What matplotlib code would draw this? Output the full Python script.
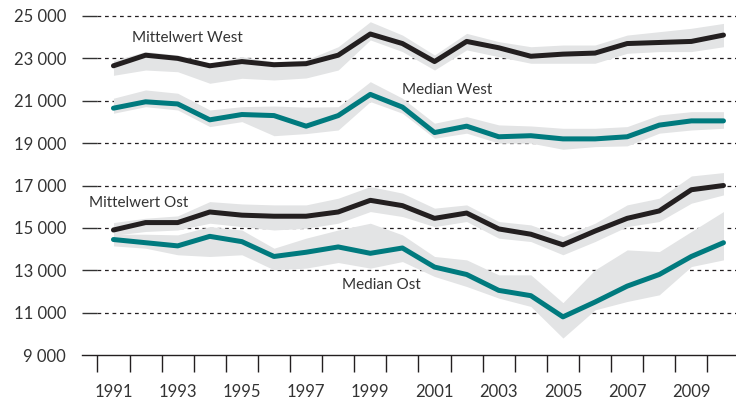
import matplotlib
matplotlib.use("Agg")
import matplotlib.pyplot as plt
import numpy as np

years = list(range(1991, 2011))

mittel_west = [22650, 23150, 23000, 22650, 22850, 22700, 22750, 23150, 24150, 23700,
               22850, 23800, 23500, 23100, 23200, 23250, 23700, 23750, 23800, 24100]
mittel_west_hi = [22900, 23320, 23160, 22770, 23080, 22845, 22925, 23550, 24730, 24100,
                  23160, 24180, 23790, 23550, 23630, 23630, 24100, 24260, 24420, 24650]
mittel_west_lo = [22200, 22450, 22370, 21825, 22060, 21980, 22075, 22450, 23870, 23320,
                  22450, 23400, 23080, 22770, 22770, 22770, 23240, 23320, 23320, 23550]

median_west = [20650, 20950, 20850, 20100, 20350, 20300, 19800, 20300, 21300, 20700,
               19500, 19800, 19300, 19350, 19200, 19200, 19300, 19850, 20050, 20050]
median_west_hi = [21120, 21510, 21355, 20565, 20720, 20750, 20700, 20720, 21900, 21120,
                  19940, 20250, 19860, 19810, 19700, 19700, 19780, 20330, 20485, 20485]
median_west_lo = [20410, 20720, 20565, 19780, 20015, 19350, 19450, 19620, 20960, 20410,
                  19230, 19470, 19000, 19000, 18710, 18835, 18870, 19470, 19620, 19700]

mittel_ost = [14900, 15250, 15250, 15750, 15600, 15550, 15550, 15750, 16300, 16050,
              15450, 15700, 14950, 14700, 14200, 14850, 15450, 15800, 16800, 17000]
mittel_ost_hi = [15250, 15455, 15565, 16240, 16130, 16085, 16085, 16400, 16950, 16640,
                 15930, 16085, 15300, 15140, 14590, 15220, 16085, 16400, 17450, 17610]
mittel_ost_lo = [14650, 14830, 14900, 15220, 15060, 14900, 14985, 15220, 15770, 15535,
                 15060, 15300, 14515, 14355, 13730, 14355, 15060, 15300, 16165, 16555]

median_ost = [14450, 14300, 14150, 14600, 14350, 13650, 13850, 14100, 13800, 14050,
              13150, 12800, 12050, 11800, 10800, 11500, 12250, 12800, 13650, 14300]
median_ost_hi = [14700, 14700, 14670, 15060, 14900, 14040, 14515, 14900, 15220, 14670,
                 13650, 13490, 12783, 12783, 11470, 13020, 13960, 13880, 14830, 15770]
median_ost_lo = [14150, 14040, 13730, 13650, 13730, 13020, 13100, 13365, 13100, 13410,
                 12705, 12233, 11685, 11290, 9800, 11130, 11525, 11840, 13175, 13490]

y_ticks = [9000, 11000, 13000, 15000, 17000, 19000, 21000, 23000, 25000]
x_label_years = [1991, 1993, 1995, 1997, 1999, 2001, 2003, 2005, 2007, 2009]

labels = [("Mittelwert West", 1991.58, 23960),
          ("Median West", 1999.98, 21510),
          ("Mittelwert Ost", 1990.24, 16195),
          ("Median Ost", 1998.11, 12310)]

BLACK = "#231f20"
TEAL = "#007a7e"
BAND = "#e3e4e5"
TXT = "#333333"

plt.rcParams['font.family'] = ['Lato', 'DejaVu Sans']

fig = plt.figure(figsize=(7.36, 4.03), dpi=100)
ax = fig.add_axes([82/736, 48/403, 1 - 82/736, (355-16)/403])
xl = (1990.02, 2010.39)
ax.set_xlim(*xl)
ax.set_ylim(9000, 25000)

# gridlines
for v in y_ticks[1:]:
    ax.plot([xl[0], 1990.5], [v, v], color=TXT, lw=1.0, solid_capstyle='butt', zorder=1, clip_on=False)
    ax.plot([1990.5, xl[1]], [v, v], color=BLACK, lw=0.9, dashes=(3, 3), zorder=1, clip_on=False)
ax.plot([xl[0], xl[1]], [9000, 9000], color=BLACK, lw=1.0, zorder=1, clip_on=False)

# bands
for lo, hi in [(mittel_west_lo, mittel_west_hi), (median_west_lo, median_west_hi),
               (mittel_ost_lo, mittel_ost_hi), (median_ost_lo, median_ost_hi)]:
    ax.fill_between(years, lo, hi, color=BAND, lw=0, zorder=2)

# lines
for vals, col in [(mittel_west, BLACK), (median_west, TEAL), (mittel_ost, BLACK), (median_ost, TEAL)]:
    ax.plot(years, vals, color=col, lw=3.6, solid_capstyle='round', solid_joinstyle='round', zorder=3)

for txt, x, y in labels:
    ax.text(x, y, txt, fontsize=11, color=TXT, ha='left', va='center', zorder=4)

for s in ax.spines.values():
    s.set_visible(False)

ax.set_yticks(y_ticks)
ax.set_yticklabels([f"{v:,}".replace(",", " ") for v in y_ticks], fontsize=12, color=TXT)
ax.tick_params(axis='y', length=0, pad=11.5)

ax.set_xticks([y - 0.5 for y in range(1991, 2011)])
ax.set_xticklabels([])
ax.tick_params(axis='x', which='major', length=12.2, width=1.0, color=BLACK, direction='out')
ax.set_xticks(x_label_years, minor=True)
ax.set_xticklabels([str(y) for y in x_label_years], minor=True, fontsize=12, color=TXT)
ax.tick_params(axis='x', which='minor', length=0, pad=21)

fig.savefig("out.png", dpi=100)
